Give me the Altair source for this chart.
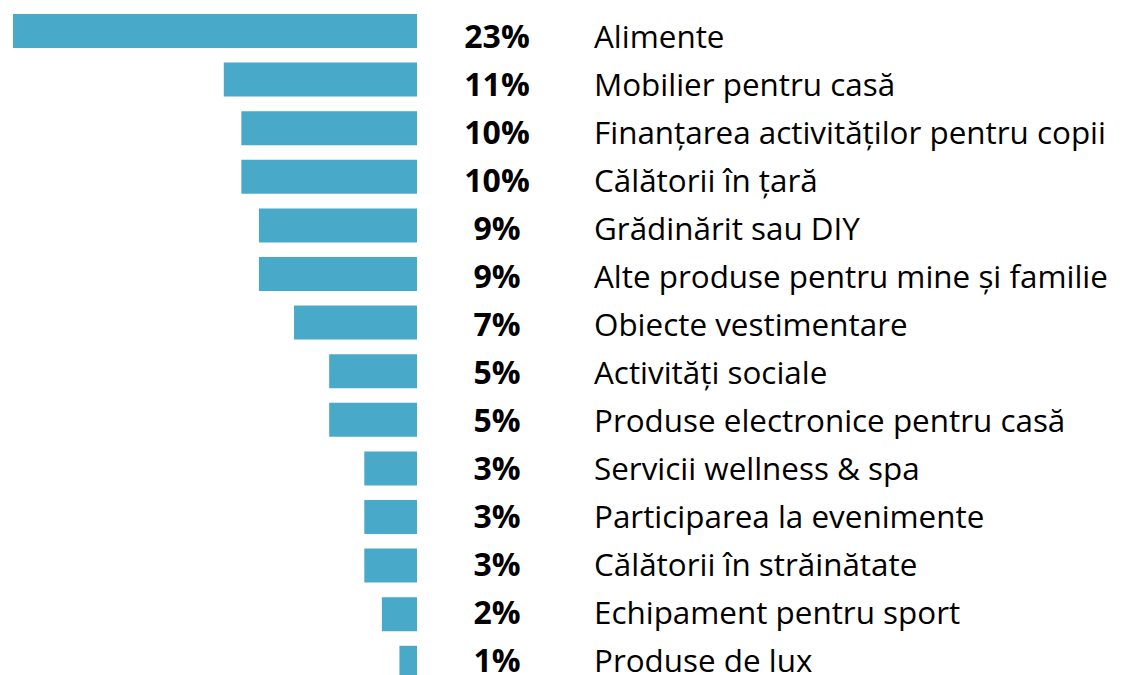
import altair as alt
import pandas as pd

categories = [
    "Alimente",
    "Mobilier pentru casă",
    "Finanțarea activităților pentru copii",
    "Călătorii în țară",
    "Grădinărit sau DIY",
    "Alte produse pentru mine și familie",
    "Obiecte vestimentare",
    "Activități sociale",
    "Produse electronice pentru casă",
    "Servicii wellness & spa",
    "Participarea la evenimente",
    "Călătorii în străinătate",
    "Echipament pentru sport",
    "Produse de lux",
]
values = [23, 11, 10, 10, 9, 9, 7, 5, 5, 3, 3, 3, 2, 1]
labels = [f"{v}%" for v in values]

df = pd.DataFrame({"cat": categories, "val": values, "lbl": labels, "zero": [0] * len(values)})

W, H = 1106, 667
FONT = "Open Sans"

ybar = alt.Y("cat:N", sort=categories, axis=None,
             scale=alt.Scale(range=[-1.3, 679.1], paddingInner=0.30, paddingOuter=0.15))
ytxt = alt.Y("cat:N", sort=categories, axis=None,
             scale=alt.Scale(range=[15.7, 687.7], paddingInner=0.30, paddingOuter=0.15))
xs = alt.Scale(domain=[0, 23], range=[409, 5])

bars = alt.Chart(df).mark_bar(color="#48a9c8", cornerRadius=0).encode(
    x=alt.X("val:Q", scale=xs, axis=None),
    x2="zero:Q",
    y=ybar,
)

pct = alt.Chart(df).mark_text(font=FONT, fontSize=32, fontWeight="bold", color="#000000",
                              align="center", baseline="alphabetic").encode(
    x=alt.value(489), y=ytxt, text="lbl:N")

names = alt.Chart(df).mark_text(font=FONT, fontSize=31.4, color="#000000",
                                align="left", baseline="alphabetic").encode(
    x=alt.value(586), y=ytxt, text="cat:N")

text_layer = alt.layer(pct, names)

chart = alt.layer(bars, text_layer).resolve_scale(y="independent").properties(
    width=W, height=H, autosize=alt.AutoSizeParams(type="none"), padding=0
).configure_view(stroke=None)

chart.save("out.html", embed_options={"renderer": "svg", "actions": False})
